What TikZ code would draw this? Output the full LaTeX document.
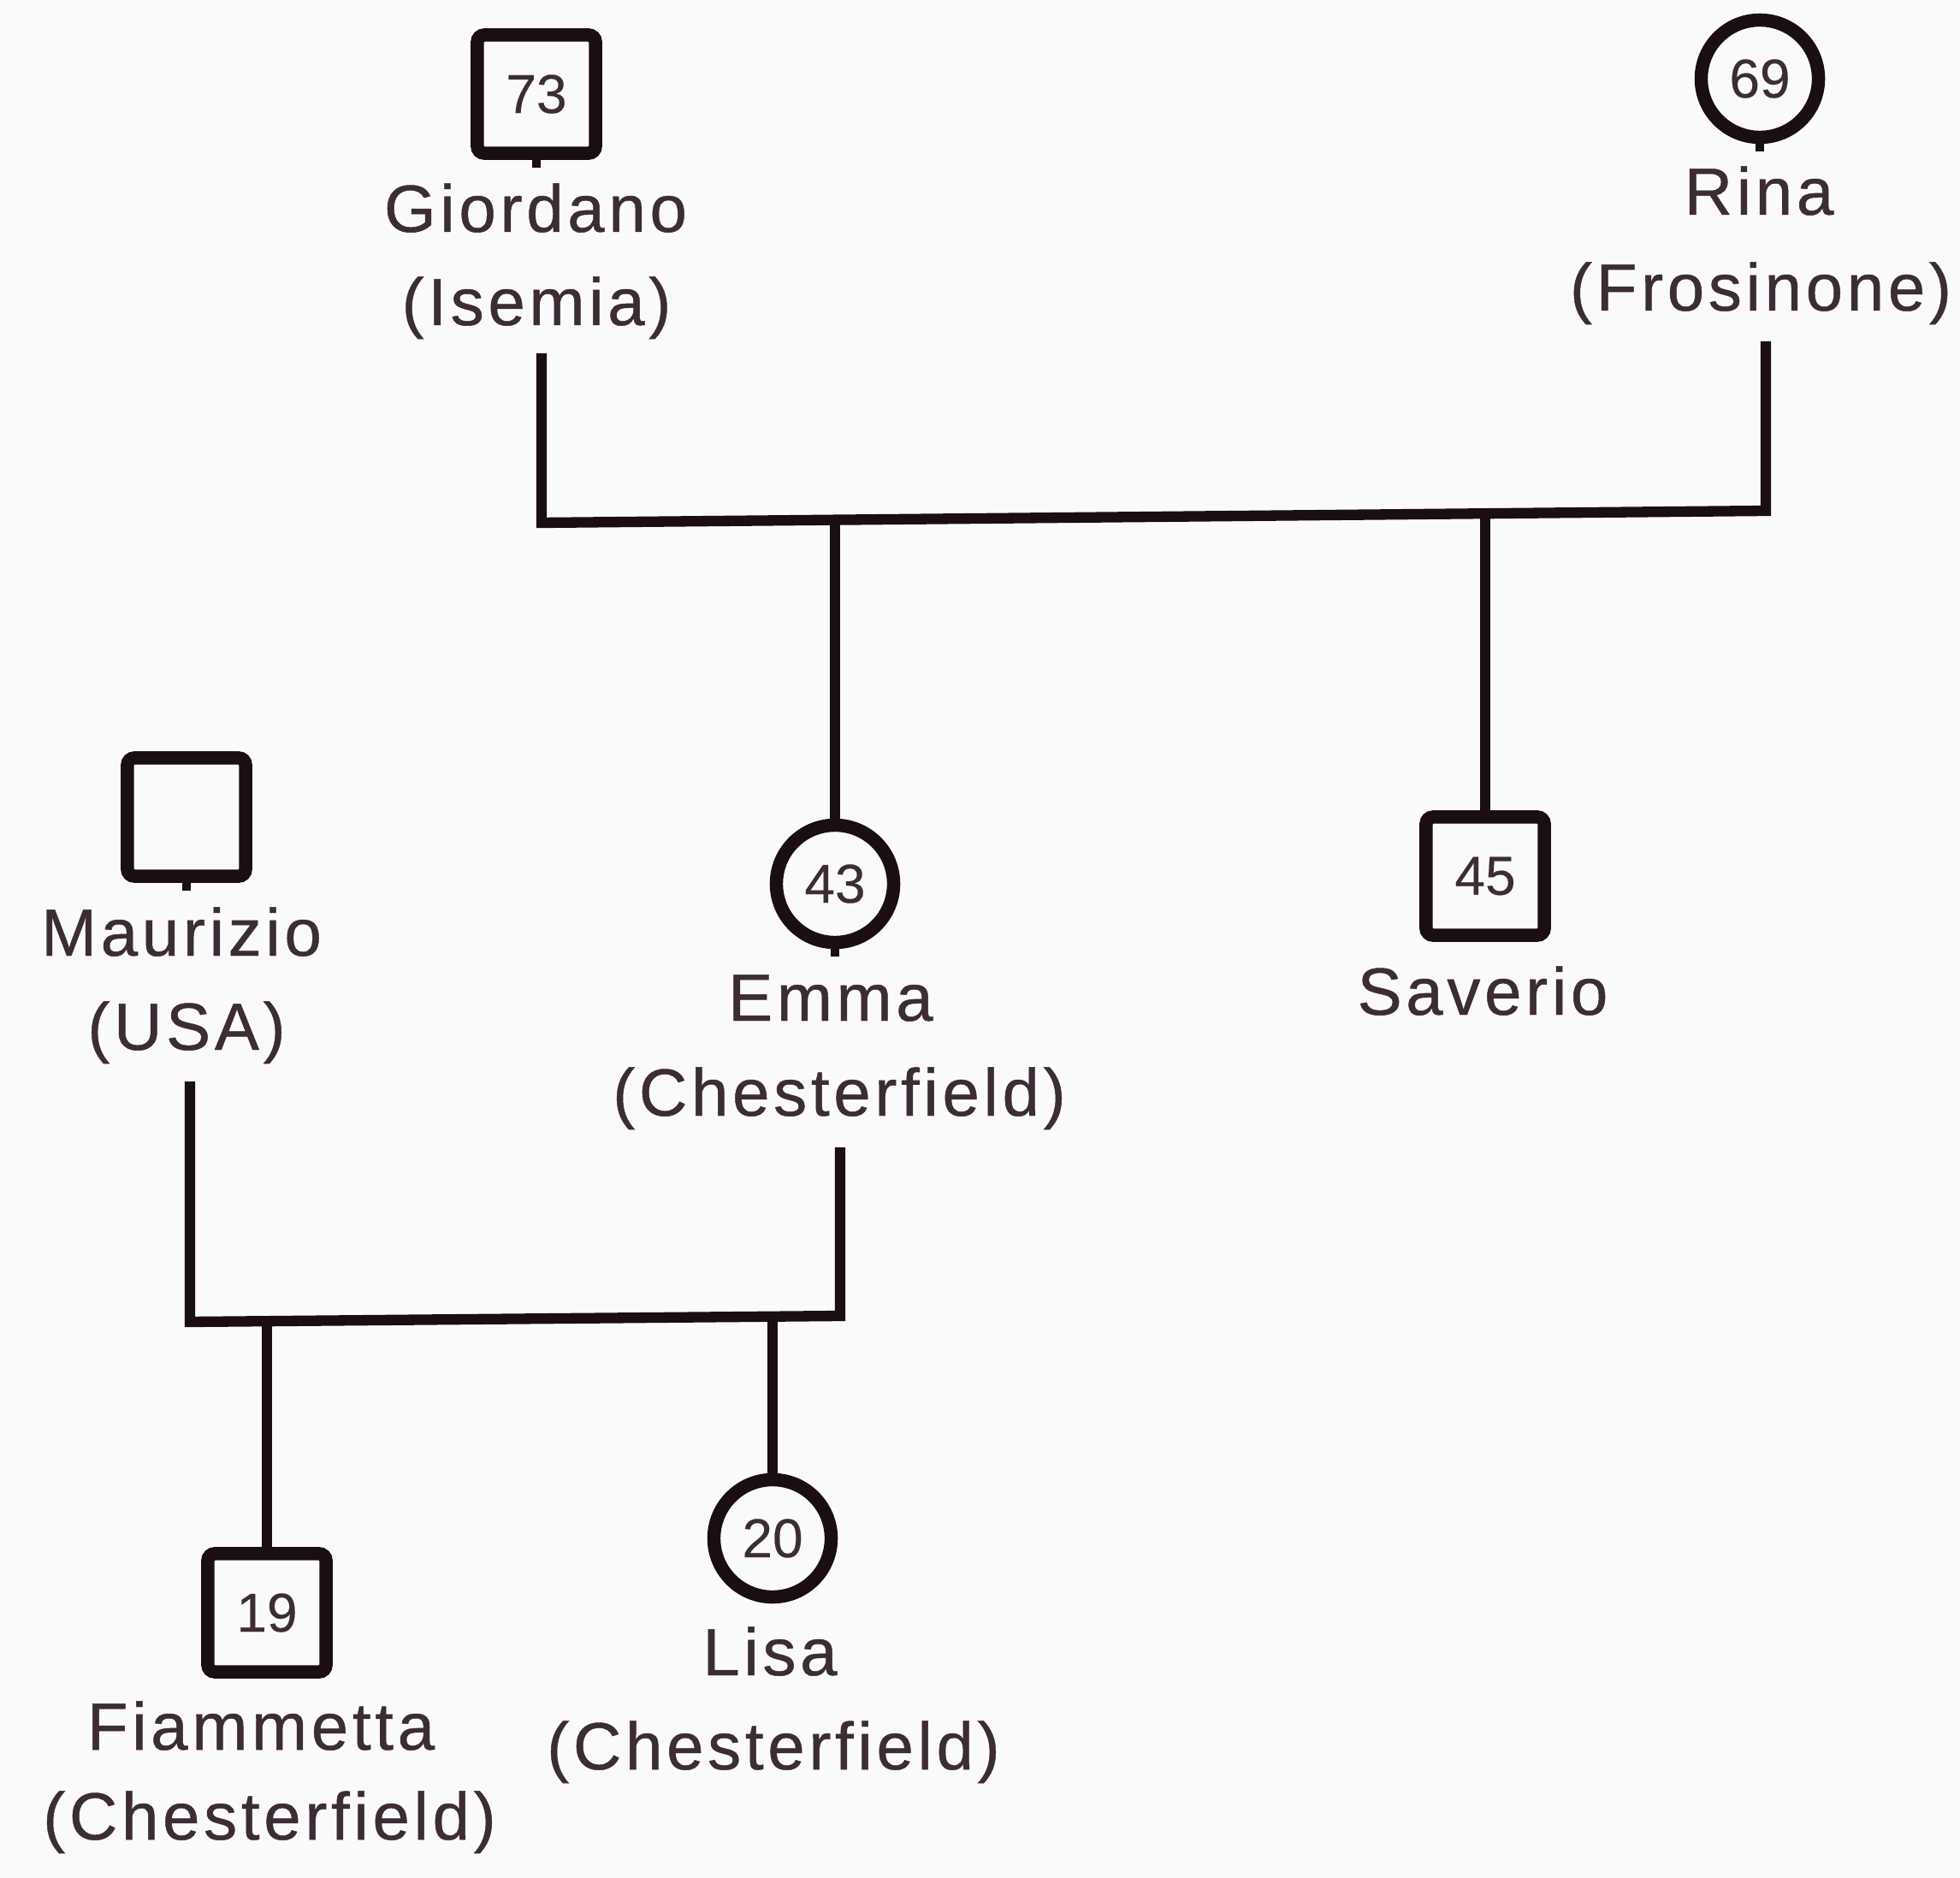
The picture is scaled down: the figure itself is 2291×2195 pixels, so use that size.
\documentclass[tikz,border=0pt]{standalone}
\usepackage{fontspec}
\setmainfont{Liberation Sans}
\newfontfamily\labelfont{Liberation Sans}[LetterSpace=6,FakeBold=0.6]
\newfontfamily\agefont{Liberation Sans}[FakeBold=0.3]
\usetikzlibrary{calc}
\definecolor{ink}{RGB}{26,14,18}
\definecolor{txt}{RGB}{60,44,52}
\definecolor{paper}{RGB}{250,250,252}
\begin{document}
\begin{tikzpicture}[x=0.01cm,y=-0.01cm,
  malebox/.style={draw=ink,line width=4.4pt,rounded corners=0.08cm,minimum size=1.38cm,
    inner sep=0pt,text=txt,font=\agefont\fontsize{18.2}{20}\selectfont},
  femalebox/.style={malebox,circle,minimum size=1.37cm},
  plabel/.style={anchor=base,text=txt,inner sep=0pt,font=\labelfont\fontsize{22.2}{26}\selectfont},
  conn/.style={draw=ink,line width=3.5pt},
  tick/.style={draw=ink,line width=2.6pt}]

% page
\fill[paper] (0,0) rectangle (2291,2195);

% first generation
\node[malebox] (g) at (627,110) {73};
\node[plabel] (gn) at (626,271) {Giordano};
\node[plabel] (gp) at (627,380) {(Isemia)};
\node[femalebox] (r) at (2057,92) {69};
\node[plabel] (rn) at (2056,251) {Rina};
\node[plabel] (rp) at (2058,363) {(Frosinone)};

% second generation
\node[malebox] (m) at (218,955) {};
\node[plabel] (mn) at (212,1117) {Maurizio};
\node[plabel] (mp) at (218,1227) {(USA)};
\node[femalebox] (e) at (976,1033) {43};
\node[plabel] (en) at (971,1193) {Emma};
\node[plabel] (ep) at (981,1304) {(Chesterfield)};
\node[malebox] (s) at (1736,1024) {45};
\node[plabel] (sn) at (1733,1186) {Saverio};

% third generation
\node[malebox] (f) at (312,1885) {19};
\node[plabel] (fn) at (305,2045) {Fiammetta};
\node[plabel] (fp) at (315,2150) {(Chesterfield)};
\node[femalebox] (l) at (903,1798) {20};
\node[plabel] (ln) at (900,1958) {Lisa};
\node[plabel] (lp) at (904,2068) {(Chesterfield)};

% small ticks under the upper symbols
\foreach \p in {g,r,m,e} \draw[tick] (\p.south) -- ++(0,9);

% marriage Giordano -- Rina
\coordinate (gt) at (633,413);
\coordinate (rt) at (2064,399);
\coordinate (bl) at (633,611);
\coordinate (br) at (2064,597);
\draw[conn] (gt) -- (bl) -- (br) -- (rt);
\draw[conn] (e.north) -- (e.north |- 0,608);
\draw[conn] (s.north) -- (s.north |- 0,601);

% marriage Maurizio -- Emma
\coordinate (mt) at (222,1264);
\coordinate (et) at (982,1341);
\coordinate (ml) at (222,1545);
\coordinate (er) at (982,1538);
\draw[conn] (mt) -- (ml) -- (er) -- (et);
\draw[conn] (f.north) -- (f.north |- 0,1544);
\draw[conn] (l.north) -- (l.north |- 0,1539);
\end{tikzpicture}
\end{document}
